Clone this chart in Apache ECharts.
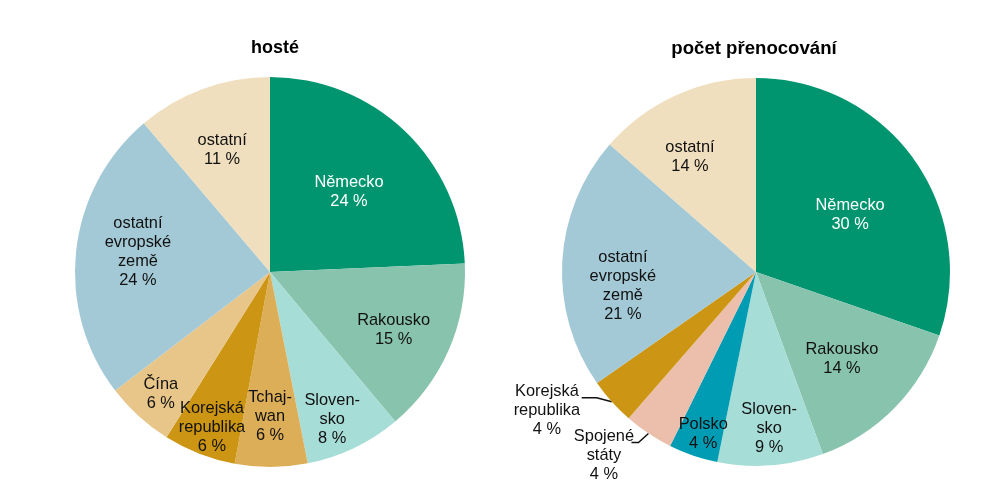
<!DOCTYPE html>
<html>
<head>
<meta charset="utf-8">
<script src="https://cdn.jsdelivr.net/npm/echarts@6/dist/echarts.min.js"></script>
<style>
html,body{margin:0;padding:0;background:#fff;}
#c{width:1004px;height:494px;}
</style>
</head>
<body>
<div id="c"></div>
<script>
// ---- data ----
const titles = ['hosté', 'počet přenocování'];
const categoriesGuests = ['Německo', 'Rakousko', 'Sloven-\nsko', 'Tchaj-\nwan', 'Korejská\nrepublika', 'Čína', 'ostatní\nevropské\nzemě', 'ostatní'];
const valuesGuests = [24.3, 14.6, 8.0, 6.0, 6.0, 5.7, 24.2, 11.2];
const categoriesNights = ['Německo', 'Rakousko', 'Sloven-\nsko', 'Polsko', 'Spojené\nstáty', 'Korejská\nrepublika', 'ostatní\nevropské\nzemě', 'ostatní'];
const valuesNights = [30.3, 14.1, 8.8, 4.1, 4.1, 3.9, 21.1, 13.6];

// ---- styles / layout ----
const colorMap = {
  'Německo': '#00956f',
  'Rakousko': '#88c3ae',
  'Sloven-\nsko': '#a6ddd6',
  'Tchaj-\nwan': '#dcae58',
  'Korejská\nrepublika': '#cc9614',
  'Čína': '#e8c689',
  'ostatní\nevropské\nzemě': '#a3c9d6',
  'ostatní': '#f0dfbe',
  'Polsko': '#009cb4',
  'Spojené\nstáty': '#ebbfab'
};
const centers = [[270, 272], [756, 272]];
const titleX = [270, 749];
const radii = [195, 194];
// label anchor: [fraction of radius, angle clockwise from top in degrees]
const labelPolar = [
  [[0.576,44.7],[0.70,115.1],[0.82,157.1],[0.74,180],[0.85,200.5],[0.84,221.8],[0.685,278.6],[0.67,338.5]],
  [[0.567,58.8],[0.63,135.3],[0.81,175.2],[0.88,198],[1.227,219.7],[1.294,236.4],[0.69,264],[0.683,330.1]]
];
// outside labels with leader lines: index -> [bend offset, end offset]
const leader = [
  {},
  {4: [[-10, 9], [-7, 0]], 5: [[-15, -4], [-15, 0]]}
];
const FONT = '"Liberation Sans", Arial, sans-serif';

function midAngles(vals) {
  const tot = vals.reduce((a, b) => a + b, 0);
  let acc = 0;
  return vals.map(v => { const m = (acc + v / 2) / tot * 360; acc += v; return m; });
}
const mids = [midAngles(valuesGuests), midAngles(valuesNights)];

function buildData(cats, vals, si) {
  return cats.map((c, i) => {
    const outside = leader[si][i] != null;
    return {
      name: c,
      value: vals[i],
      itemStyle: {color: colorMap[c]},
      label: {
        position: outside ? 'outside' : 'inside',
        color: c === 'Německo' ? '#ffffff' : '#111111'
      },
      labelLine: {show: outside}
    };
  });
}

function makeSeries(cats, vals, si) {
  return {
    type: 'pie',
    center: centers[si],
    radius: [0, radii[si]],
    startAngle: 90,
    clockwise: true,
    silent: true,
    animation: false,
    emphasis: {disabled: true},
    itemStyle: {borderWidth: 0},
    label: {
      show: true,
      fontFamily: FONT,
      fontSize: 16.4,
      lineHeight: 19,
      align: 'center',
      formatter: p => p.name + '\n' + Math.round(p.value) + ' %'
    },
    labelLine: {
      lineStyle: {color: '#111', width: 1.5},
      length: 10, length2: 10
    },
    labelLayout: function (params) {
      const i = params.dataIndex;
      const pol = labelPolar[si][i];
      const c = centers[si], r = radii[si];
      const a = pol[1] * Math.PI / 180;
      const res = {
        x: c[0] + pol[0] * r * Math.sin(a),
        y: c[1] - pol[0] * r * Math.cos(a),
        align: 'center',
        verticalAlign: 'middle'
      };
      const ld = leader[si][i];
      if (ld) {
        const m = mids[si][i] * Math.PI / 180;
        const e = [c[0] + r * Math.sin(m), c[1] - r * Math.cos(m)];
        const b = [e[0] + ld[0][0], e[1] + ld[0][1]];
        const t = [b[0] + ld[1][0], b[1] + ld[1][1]];
        res.labelLinePoints = [e, b, t];
      }
      return res;
    },
    data: buildData(cats, vals, si)
  };
}

const chart = echarts.init(document.getElementById('c'), null, {renderer: 'canvas'});
chart.setOption({
  backgroundColor: '#ffffff',
  animation: false,
  title: [
    {text: titles[0], left: titleX[0], top: 34, textAlign: 'center',
     textStyle: {fontFamily: FONT, fontSize: 18, fontWeight: 'bold', color: '#000'}},
    {text: titles[1], left: titleX[1], top: 34, textAlign: 'center',
     textStyle: {fontFamily: FONT, fontSize: 18.6, fontWeight: 'bold', color: '#000'}}
  ],
  series: [
    makeSeries(categoriesGuests, valuesGuests, 0),
    makeSeries(categoriesNights, valuesNights, 1)
  ]
});
</script>
</body>
</html>
